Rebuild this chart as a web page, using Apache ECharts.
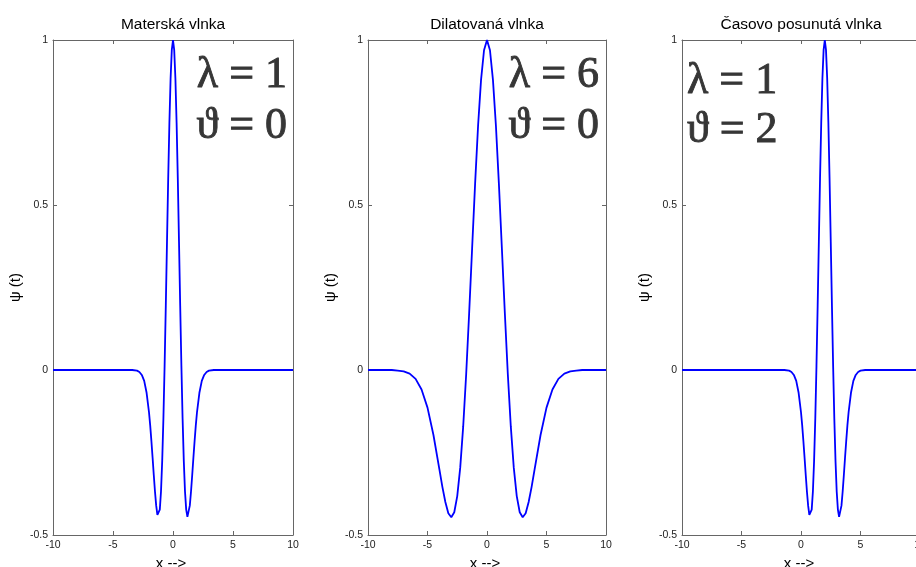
<!DOCTYPE html>
<html>
<head>
<meta charset="utf-8">
<title>Mexican hat wavelet</title>
<script src="https://cdn.jsdelivr.net/npm/echarts@6/dist/echarts.min.js"></script>
<style>
  html, body { margin: 0; padding: 0; background: #ffffff; }
  #chart { width: 916px; height: 567px; }
</style>
</head>
<body>
<div id="chart"></div>
<script>
// Panel texts
const panelTitles = ['Materská vlnka', 'Dilatovaná vlnka', 'Časovo posunutá vlnka'];
const lambdaLabels = ['λ = 1', 'λ = 6', 'λ = 1'];
const thetaLabels = ['ϑ = 0', 'ϑ = 0', 'ϑ = 2'];
const xAxisName = 'x -->';
const yAxisName = 'ψ (t)';

// Tick values shared by all three panels
const xTicks = [-10, -5, 0, 5, 10];
const yTicks = [-0.5, 0, 0.5, 1];

// Mother wavelet (λ = 1, ϑ = 0)
const motherX = [-10, -3.4, -3.0, -2.8, -2.6, -2.4, -2.2,
  -2.0, -1.9, -1.8, -1.7, -1.6, -1.5, -1.4, -1.3, -1.2, -1.1,
  -1.0, -0.9, -0.8, -0.7, -0.6, -0.5, -0.4, -0.3, -0.2, -0.1,
  0,
  0.1, 0.2, 0.3, 0.4, 0.5, 0.6, 0.7, 0.8, 0.9, 1.0,
  1.1, 1.2, 1.3, 1.4, 1.5, 1.6, 1.7, 1.8, 1.9, 2.0,
  2.2, 2.4, 2.6, 2.8, 3.0, 3.4, 10];
const motherY = [0, 0, -0.002, -0.006, -0.015, -0.033, -0.069,
  -0.128, -0.168, -0.215, -0.266, -0.319, -0.369, -0.411, -0.439, -0.445, -0.423,
  -0.368, -0.276, -0.148, 0.012, 0.195, 0.389, 0.580, 0.749, 0.884, 0.970,
  1.000,
  0.970, 0.884, 0.749, 0.580, 0.389, 0.195, 0.012, -0.148, -0.276, -0.368,
  -0.423, -0.445, -0.439, -0.411, -0.369, -0.319, -0.266, -0.215, -0.168, -0.128,
  -0.069, -0.033, -0.015, -0.006, -0.002, 0, 0];

// Dilated wavelet (λ = 6, ϑ = 0)
const dilatedX = [-10, -8, -7.5, -7, -6.5, -6, -5.5, -5, -4.5, -4,
  -3.75, -3.5, -3.25, -3, -2.75, -2.5, -2.25, -2, -1.75, -1.5, -1.25, -1, -0.75, -0.5, -0.25,
  0,
  0.25, 0.5, 0.75, 1, 1.25, 1.5, 1.75, 2, 2.25, 2.5, 2.75, 3, 3.25, 3.5, 3.75,
  4, 4.5, 5, 5.5, 6, 6.5, 7, 7.5, 8, 10];
const dilatedY = [0, 0, -0.002, -0.004, -0.011, -0.027, -0.059, -0.114, -0.197, -0.301,
  -0.354, -0.400, -0.434, -0.446, -0.431, -0.382, -0.296, -0.171, -0.013, 0.172, 0.369, 0.564, 0.740, 0.879, 0.969,
  1.000,
  0.969, 0.879, 0.740, 0.564, 0.369, 0.172, -0.013, -0.171, -0.296, -0.382, -0.431, -0.446, -0.434, -0.400, -0.354,
  -0.301, -0.197, -0.114, -0.059, -0.027, -0.011, -0.004, -0.002, 0, 0];

// Time-shifted wavelet (λ = 1, ϑ = 2)
const shiftedX = [-10, -1.4, -1.0, -0.8, -0.6, -0.4, -0.2,
  0.0, 0.1, 0.2, 0.3, 0.4, 0.5, 0.6, 0.7, 0.8, 0.9,
  1.0, 1.1, 1.2, 1.3, 1.4, 1.5, 1.6, 1.7, 1.8, 1.9,
  2.0,
  2.1, 2.2, 2.3, 2.4, 2.5, 2.6, 2.7, 2.8, 2.9, 3.0,
  3.1, 3.2, 3.3, 3.4, 3.5, 3.6, 3.7, 3.8, 3.9, 4.0,
  4.2, 4.4, 4.6, 4.8, 5.0, 5.4, 10];
const shiftedY = [0, 0, -0.002, -0.006, -0.015, -0.033, -0.069,
  -0.128, -0.168, -0.215, -0.266, -0.319, -0.369, -0.411, -0.439, -0.445, -0.423,
  -0.368, -0.276, -0.148, 0.012, 0.195, 0.389, 0.580, 0.749, 0.884, 0.970,
  1.000,
  0.970, 0.884, 0.749, 0.580, 0.389, 0.195, 0.012, -0.148, -0.276, -0.368,
  -0.423, -0.445, -0.439, -0.411, -0.369, -0.319, -0.266, -0.215, -0.168, -0.128,
  -0.069, -0.033, -0.015, -0.006, -0.002, 0, 0];

const seriesX = [motherX, dilatedX, shiftedX];
const seriesY = [motherY, dilatedY, shiftedY];

// Layout of the three plot boxes (pixels); the last box runs past the right edge
const boxes = [
  { left: 53, width: 240 },
  { left: 368, width: 238 },
  { left: 682, width: 238 }
];
const boxTop = 40;
const boxHeight = 495;
// Where the large λ / ϑ annotations sit in each box
const notePos = [
  { x: 287, align: 'right', y1: 75, y2: 126 },
  { x: 599, align: 'right', y1: 75, y2: 126 },
  { x: 687, align: 'left', y1: 81, y2: 130 }
];

const chart = echarts.init(document.getElementById('chart'), null, { renderer: 'canvas' });

const frameColor = '#666666';
const labelFont = 'Liberation Sans, Arial, sans-serif';
const noteFont = '44px Liberation Serif, Times New Roman, serif';
const xInterval = xTicks[1] - xTicks[0];
const yInterval = yTicks[1] - yTicks[0];

const grid = [], xAxis = [], yAxis = [], series = [], graphic = [];

boxes.forEach((b, i) => {
  grid.push({
    left: b.left, top: boxTop, width: b.width, height: boxHeight,
    containLabel: false, outerBoundsMode: 'none'
  });
  const baseX = {
    type: 'value', gridIndex: i,
    min: xTicks[0], max: xTicks[xTicks.length - 1], interval: xInterval,
    axisLine: { show: true, onZero: false, lineStyle: { color: frameColor, width: 1 } },
    axisTick: { show: true, inside: true, length: 4, lineStyle: { color: frameColor } },
    splitLine: { show: false }
  };
  const baseY = {
    type: 'value', gridIndex: i,
    min: yTicks[0], max: yTicks[yTicks.length - 1], interval: yInterval,
    axisLine: { show: true, onZero: false, lineStyle: { color: frameColor, width: 1 } },
    axisTick: { show: true, inside: true, length: 4, lineStyle: { color: frameColor } },
    splitLine: { show: false }
  };
  xAxis.push(Object.assign({}, baseX, {
    position: 'bottom',
    axisLabel: { show: true, color: '#222', fontFamily: labelFont, fontSize: 10.5, margin: 5,
      showMinLabel: true, showMaxLabel: true, hideOverlap: false }
  }));
  yAxis.push(Object.assign({}, baseY, {
    position: 'left',
    axisLabel: { show: true, color: '#222', fontFamily: labelFont, fontSize: 10.5, margin: 5,
      showMinLabel: true, showMaxLabel: true, hideOverlap: false }
  }));
  series.push({
    type: 'line', xAxisIndex: i, yAxisIndex: i,
    data: seriesX[i].map((x, k) => [x, seriesY[i][k]]),
    showSymbol: false, symbol: 'none', smooth: false, clip: true,
    lineStyle: { color: '#0000ff', width: 1.8 },
    emphasis: { disabled: true }
  });

  const cx = b.left + b.width / 2;
  graphic.push({
    type: 'text', x: cx, y: 24.5, silent: true,
    style: { text: panelTitles[i], font: '15.5px Liberation Sans, Arial, sans-serif',
      fill: '#000', align: 'center', verticalAlign: 'middle' }
  });
  graphic.push({
    type: 'text', x: cx - 2, y: 564, silent: true,
    style: { text: xAxisName, font: '15px Liberation Sans, Arial, sans-serif',
      fill: '#000', align: 'center', verticalAlign: 'middle' }
  });
  graphic.push({
    type: 'text', x: b.left - 37, y: boxTop + boxHeight / 2, rotation: Math.PI / 2, silent: true,
    style: { text: yAxisName, font: '15px Liberation Sans, Arial, sans-serif',
      fill: '#000', align: 'center', verticalAlign: 'middle' }
  });
  const n = notePos[i];
  [[lambdaLabels[i], n.y1], [thetaLabels[i], n.y2]].forEach(([txt, y]) => {
    graphic.push({
      type: 'text', x: n.x, y: y, silent: true,
      style: { text: txt, font: noteFont, fill: '#363636',
        stroke: '#363636', lineWidth: 0.9,
        align: n.align, verticalAlign: 'middle' }
    });
  });
});

// Companion axes on the top and right close each box and carry inward ticks
boxes.forEach((b, i) => {
  xAxis.push({
    type: 'value', gridIndex: i, position: 'top',
    min: xTicks[0], max: xTicks[xTicks.length - 1], interval: xInterval,
    axisLine: { show: true, onZero: false, lineStyle: { color: frameColor, width: 1 } },
    axisTick: { show: true, inside: true, length: 4, lineStyle: { color: frameColor } },
    axisLabel: { show: false }, splitLine: { show: false }
  });
  yAxis.push({
    type: 'value', gridIndex: i, position: 'right',
    min: yTicks[0], max: yTicks[yTicks.length - 1], interval: yInterval,
    axisLine: { show: true, onZero: false, lineStyle: { color: frameColor, width: 1 } },
    axisTick: { show: true, inside: true, length: 4, lineStyle: { color: frameColor } },
    axisLabel: { show: false }, splitLine: { show: false }
  });
});

chart.setOption({
  animation: false,
  backgroundColor: '#ffffff',
  grid, xAxis, yAxis, series, graphic
});
</script>
</body>
</html>
